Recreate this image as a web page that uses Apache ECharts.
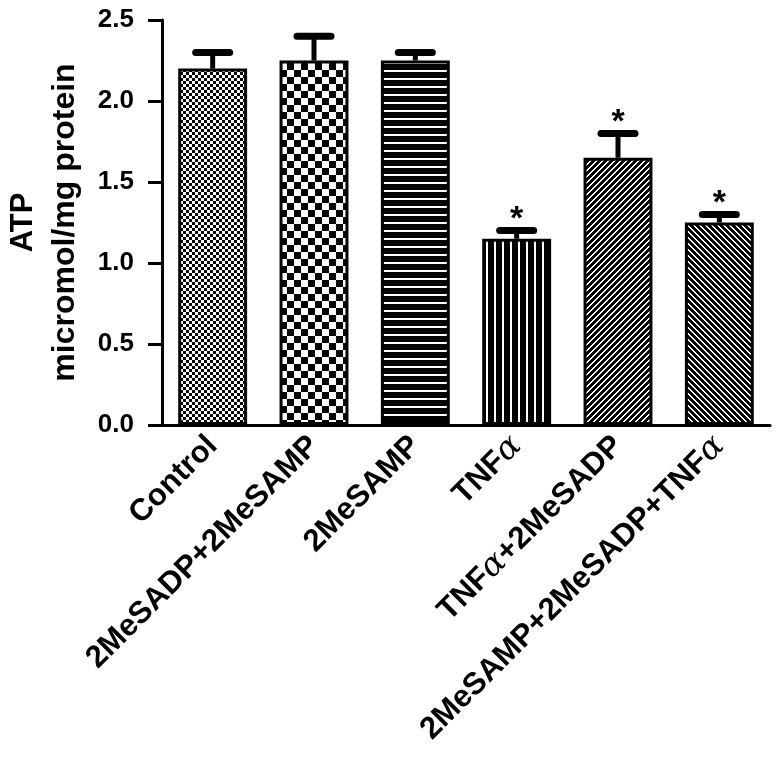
<!DOCTYPE html>
<html>
<head>
<meta charset="utf-8">
<script src="https://cdn.jsdelivr.net/npm/echarts@6/dist/echarts.min.js"></script>
<style>
html,body{margin:0;padding:0;background:#fff;}
#chart{width:782px;height:757px;}
</style>
</head>
<body>
<div id="chart"></div>
<script>
// ---- data ----
var categories = ['Control', '2MeSADP+2MeSAMP', '2MeSAMP', 'TNFα', 'TNFα+2MeSADP', '2MeSAMP+2MeSADP+TNFα'];
var means = [2.2, 2.25, 2.25, 1.15, 1.65, 1.25];
var errors = [0.1, 0.15, 0.05, 0.05, 0.15, 0.05];
var marks = ['', '', '', '*', '*', '*'];
var yTicks = ['0.0', '0.5', '1.0', '1.5', '2.0', '2.5'];

// ---- patterns ----
function makeTile(w, h, fn) {
  var c = document.createElement('canvas');
  c.width = w; c.height = h;
  var ctx = c.getContext('2d');
  var img = ctx.createImageData(w, h);
  for (var y = 0; y < h; y++) {
    for (var x = 0; x < w; x++) {
      var v = fn(x, y) ? 255 : 0;
      var i = (y * w + x) * 4;
      img.data[i] = v; img.data[i + 1] = v; img.data[i + 2] = v; img.data[i + 3] = 255;
    }
  }
  ctx.putImageData(img, 0, 0);
  return c;
}
var patterns = [
  makeTile(6, 6, function (x, y) { return ((Math.floor(x / 3) + Math.floor(y / 3)) % 2) === 1; }),
  makeTile(14, 14, function (x, y) { return ((Math.floor(x / 7) + Math.floor(y / 7)) % 2) === 1; }),
  makeTile(4, 8, function (x, y) { return y >= 6; }),
  makeTile(8, 4, function (x, y) { return x >= 6; }),
  makeTile(6, 6, function (x, y) { var d = (x + y) % 6; return d === 0 || d === 1; }),
  makeTile(6, 6, function (x, y) { var d = ((x - y) % 6 + 6) % 6; return d === 0 || d === 1; })
];

var FONT = "'Liberation Sans', Arial, Helvetica, sans-serif";

var barData = means.map(function (v, i) {
  return {
    value: v,
    itemStyle: { color: { image: patterns[i], repeat: 'repeat' } }
  };
});
var errData = means.map(function (v, i) { return [i, v, errors[i]]; });

function labelFmt(s) {
  var parts = s.split('α');
  var out = '';
  for (var i = 0; i < parts.length; i++) {
    if (parts[i]) out += '{b|' + parts[i] + '}';
    if (i < parts.length - 1) out += '{a|α}';
  }
  return out;
}

var chart = echarts.init(document.getElementById('chart'), null, { renderer: 'canvas' });
chart.setOption({
  animation: false,
  backgroundColor: '#fff',
  grid: { left: 162, right: 12, top: 20, bottom: 332, containLabel: false, outerBoundsMode: 'none' },
  xAxis: {
    type: 'category',
    data: categories,
    axisLine: { lineStyle: { color: '#000', width: 3 } },
    axisTick: { show: false },
    axisLabel: {
      interval: 0,
      rotate: 45,
      margin: 16,
      formatter: labelFmt,
      rich: {
        b: { fontFamily: FONT, fontWeight: 'bold', fontSize: 31, color: '#000' },
        a: { fontFamily: "'DejaVu Serif', serif", fontStyle: 'italic', fontWeight: 'normal', fontSize: 33, color: '#000' }
      }
    }
  },
  yAxis: {
    type: 'value',
    min: 0,
    max: 2.5,
    interval: 0.5,
    axisLine: { show: true, lineStyle: { color: '#000', width: 3 } },
    axisTick: { show: true, length: 14, lineStyle: { color: '#000', width: 3 } },
    splitLine: { show: false },
    axisLabel: {
      margin: 28,
      fontFamily: FONT, fontWeight: 'bold', fontSize: 26, color: '#000',
      formatter: function (v) { return yTicks[Math.round(v / 0.5)]; }
    },
    name: '{t|ATP}\n{s|micromol/mg protein}',
    nameLocation: 'middle',
    nameRotate: 90,
    nameGap: 77,
    nameTextStyle: {
      rich: {
        t: { fontFamily: FONT, fontWeight: 'bold', fontSize: 31, color: '#000', lineHeight: 44 },
        s: { fontFamily: FONT, fontWeight: 'bold', fontSize: 32, color: '#000', lineHeight: 40 }
      }
    }
  },
  series: [
    {
      type: 'bar',
      data: barData,
      barWidth: '68%',
      itemStyle: { borderColor: '#000', borderWidth: 3 }
    },
    {
      type: 'custom',
      data: errData,
      renderItem: function (params, api) {
        var idx = api.value(0);
        var mean = api.value(1);
        var err = api.value(2);
        var mark = marks[params.dataIndex];
        var base = api.coord([idx, mean]);
        var top = api.coord([idx, mean + err]);
        var half = 17;
        var children = [
          { type: 'line', shape: { x1: base[0], y1: base[1], x2: top[0], y2: top[1] + 2 },
            style: { stroke: '#000', lineWidth: 5 } },
          { type: 'line', shape: { x1: top[0] - half, y1: top[1], x2: top[0] + half, y2: top[1] },
            style: { stroke: '#000', lineWidth: 7, lineCap: 'round' } }
        ];
        if (mark) {
          children.push({ type: 'text', x: top[0], y: top[1] + 6,
            style: { text: mark, fill: '#000', font: 'bold 34px ' + FONT, textAlign: 'center', textVerticalAlign: 'bottom' } });
        }
        return { type: 'group', children: children };
      },
      z: 5
    }
  ]
});
</script>
</body>
</html>
